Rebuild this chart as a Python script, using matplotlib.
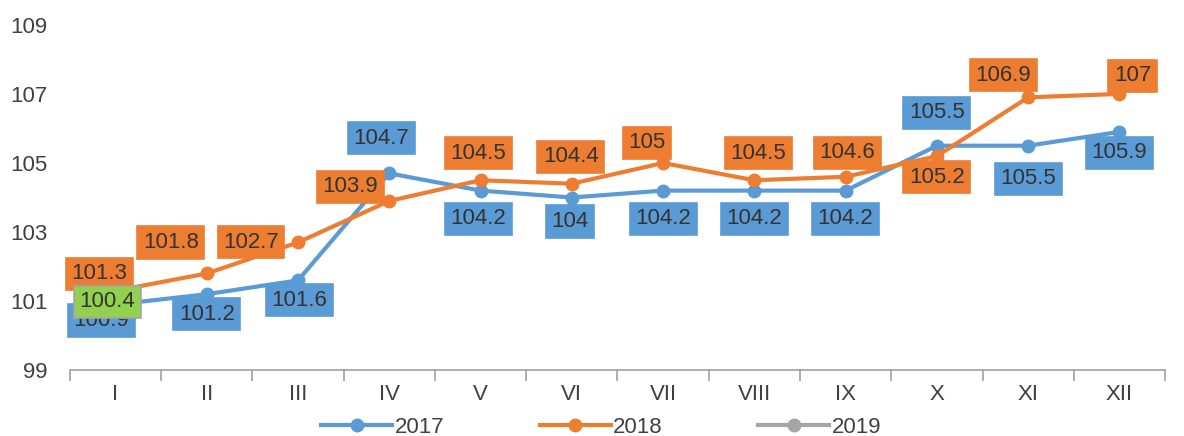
import matplotlib
matplotlib.use('Agg')
import matplotlib.pyplot as plt

plt.rcParams['font.family'] = ['Liberation Sans', 'DejaVu Sans']

months = ['I', 'II', 'III', 'IV', 'V', 'VI', 'VII', 'VIII', 'IX', 'X', 'XI', 'XII']
y2017 = [100.9, 101.2, 101.6, 104.7, 104.2, 104.0, 104.2, 104.2, 104.2, 105.5, 105.5, 105.9]
y2018 = [101.3, 101.8, 102.7, 103.9, 104.5, 104.4, 105.0, 104.5, 104.6, 105.2, 106.9, 107.0]
y2019 = [100.4]
lab2017 = ['100.9', '101.2', '101.6', '104.7', '104.2', '104', '104.2', '104.2', '104.2', '105.5', '105.5', '105.9']
lab2018 = ['101.3', '101.8', '102.7', '103.9', '104.5', '104.4', '105', '104.5', '104.6', '105.2', '106.9', '107']
lab2019 = ['100.4']

# смещения подписей (пиксели)
off2017 = [(-14, -16), (0, -20), (1, -20), (-8, 35), (-2, -28), (-2, -24), (0, -28), (0, -28), (0, -28), (0, 33), (0, -33), (0, -21)]
off2018 = [(-16, 17), (-36, 31), (-47, 0), (-39, 14), (-2, 27), (-1, 27), (-16, 20), (4, 27), (2, 24), (0, -21), (-25, 22), (13, 18)]
off2019 = [(-8, 20)]

c17, c18, c19 = '#5B9BD5', '#ED7D31', '#A5A5A5'

fig = plt.figure(figsize=(11.84, 4.36), dpi=100)
ax = fig.add_axes([0.059, 0.151, 0.925, 0.792])
x = list(range(len(months)))

ax.plot(x, y2017, color=c17, lw=3, marker='o', ms=9, label='2017', zorder=3)
ax.plot(x, y2018, color=c18, lw=3, marker='o', ms=9, label='2018', zorder=3)
ax.plot(x[:len(y2019)], y2019, color=c19, lw=3, marker='o', ms=9, label='2019', zorder=2)

def labels(vals, texts, offs, fc, ec):
    for i, (v, t, o) in enumerate(zip(vals, texts, offs)):
        ax.annotate(t, (i, v), xytext=o, textcoords='offset pixels', ha='center', va='center',
                    fontsize=16, color='#333333', zorder=5,
                    bbox=dict(boxstyle='square,pad=0.25', fc=fc, ec=ec, lw=1.2))

labels(y2017, lab2017, off2017, c17, c17)
labels(y2018, lab2018, off2018, c18, c18)
labels(y2019, lab2019, off2019, '#92D050', '#A5A5A5')

ax.set_xlim(-0.5, 11.5)
ax.set_ylim(99, 109)
ax.set_yticks([99, 101, 103, 105, 107, 109])
ax.set_xticks(x)
ax.set_xticklabels(months)
ax.set_xticks([i - 0.5 for i in range(13)], minor=True)
ax.tick_params(axis='x', which='major', length=0, pad=10, labelsize=16, labelcolor='#404040')
ax.tick_params(axis='x', which='minor', length=8, color='#A0A0A0', width=1.2)
ax.tick_params(axis='y', length=0, pad=16, labelsize=16, labelcolor='#404040')
for s in ['top', 'right', 'left']:
    ax.spines[s].set_visible(False)
ax.spines['bottom'].set_color('#A0A0A0')
ax.spines['bottom'].set_linewidth(1.2)

ax.legend(loc='center', bbox_to_anchor=(0.485, -0.165), ncol=3, frameon=False, borderpad=0,
          fontsize=16, handlelength=3.2, columnspacing=4.3, handletextpad=0.1, labelcolor='#404040')

fig.savefig('out.png', dpi=100)
